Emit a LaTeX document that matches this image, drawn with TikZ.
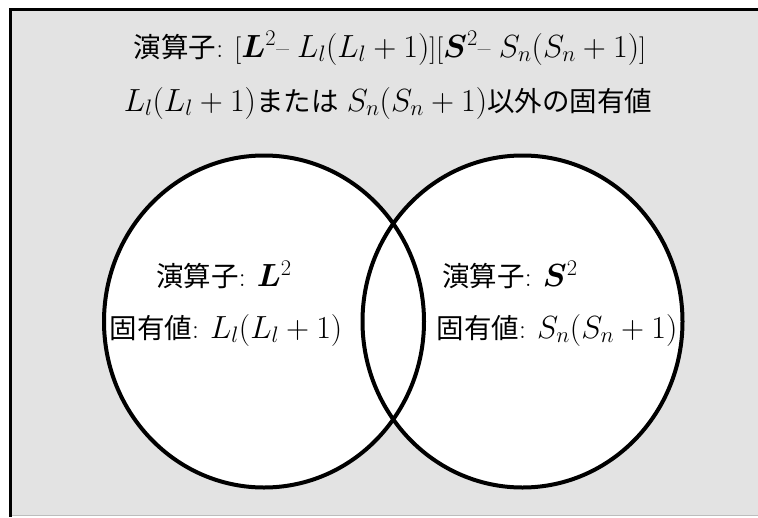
\RequirePackage{fix-cm}
\documentclass[tikz,border=0pt]{standalone}
\usepackage{amsmath,amssymb,bm}
\usepackage{fontspec}
\newfontfamily\jafont{Noto Sans CJK JP}
\usetikzlibrary{shapes.geometric}
\newcommand{\ja}[1]{{\jafont #1}}
\newcommand{\mth}[1]{{\fontsize{32}{36}\selectfont$#1$}}
\definecolor{panelgray}{HTML}{E3E3E3}
\definecolor{edgegray}{HTML}{BDBDBD}

\begin{document}
\begin{tikzpicture}[x=1pt,y=-1pt,
  lbl/.style={font=\fontsize{27.5}{32}\selectfont,inner sep=0pt},
  setring/.style={ellipse,draw=black,line width=4pt,minimum width=320pt,minimum height=332pt,inner sep=0pt}]
  \useasboundingbox (0,0) rectangle (758,517);
  % panel
  \fill[panelgray] (10,9) rectangle (758,515.5);
  \draw[edgegray,line width=1pt] (10,515.5) -- (758,515.5);
  \draw[black,line width=3.5pt] (758,9.3) -- (10.3,9.3) -- (10.3,517);
  % sets
  \fill[white] (264,321.5) ellipse [x radius=160,y radius=166];
  \fill[white] (522.5,321.5) ellipse [x radius=160,y radius=166];
  \node[setring] (Lset) at (264,321.5) {};
  \node[setring] (Sset) at (522.5,321.5) {};
  % texts
  \node[lbl] (top1) at (390,48) {\ja{演算子}: [\mth{\bm{L}^2}– \mth{L_l(L_l + 1)}][\mth{\bm{S}^2}– \mth{S_n(S_n + 1)}]};
  \node[lbl] (top2) at (388,103) {\mth{L_l(L_l + 1)}\ja{または} \mth{S_n(S_n + 1)}\ja{以外の固有値}};
  \node[lbl] (Lop) at (224,275) {\ja{演算子}: \mth{\bm{L}^2}};
  \node[lbl] (Lval) at (226,330) {\ja{固有値}: \mth{L_l(L_l + 1)}};
  \node[lbl] (Sop) at (510,275) {\ja{演算子}: \mth{\bm{S}^2}};
  \node[lbl] (Sval) at (557,330) {\ja{固有値}: \mth{S_n(S_n + 1)}};
\end{tikzpicture}
\end{document}
